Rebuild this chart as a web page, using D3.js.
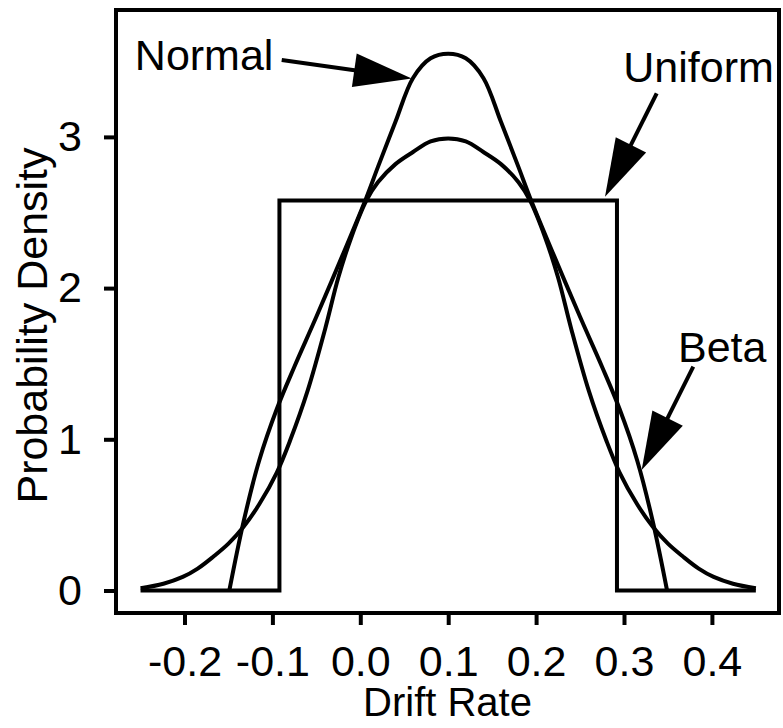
<!DOCTYPE html>
<html>
<head>
<meta charset="utf-8">
<script src="https://cdn.jsdelivr.net/npm/d3@7"></script>
<style>
  html, body { margin: 0; padding: 0; background: #fff; }
  svg { display: block; }
  text { font-family: "Liberation Sans", Arial, Helvetica, sans-serif; fill: #000; }
</style>
</head>
<body>
<svg id="chart" width="783" height="728"></svg>
<script>
// Drift-rate distributions: probability density against drift rate.
const xTicks = [-0.2, -0.1, 0.0, 0.1, 0.2, 0.3, 0.4];
const yTicks = [0, 1, 2, 3];

// Wide bell curve (peak about 3.0 at 0.1)
const normalX = [-0.25, -0.224, -0.202, -0.185, -0.167, -0.15, -0.133, -0.115, -0.095, -0.08, -0.06, -0.04, -0.025, -0.01, 0.007, 0.02, 0.04, 0.06, 0.08, 0.1,
                 0.12, 0.14, 0.16, 0.18, 0.193, 0.21, 0.225, 0.24, 0.26, 0.28, 0.295, 0.315, 0.333, 0.35, 0.367, 0.385, 0.402, 0.424, 0.45];
const normalY = [0.015, 0.045, 0.09, 0.145, 0.225, 0.31, 0.42, 0.57, 0.78, 0.99, 1.32, 1.73, 2.07, 2.34, 2.58, 2.70, 2.82, 2.90, 2.97, 2.99,
                 2.97, 2.90, 2.82, 2.70, 2.58, 2.34, 2.07, 1.73, 1.32, 0.99, 0.78, 0.57, 0.42, 0.31, 0.225, 0.145, 0.09, 0.045, 0.015];

// Narrow, taller curve (peak about 3.55 at 0.1) on [-0.149, 0.349]
const betaX = [-0.149, -0.133, -0.115, -0.095, -0.075, -0.05, -0.02, 0.007, 0.02, 0.04, 0.06, 0.08, 0.1,
               0.12, 0.14, 0.16, 0.18, 0.193, 0.22, 0.25, 0.275, 0.295, 0.315, 0.333, 0.349];
const betaY = [0, 0.45, 0.86, 1.20, 1.48, 1.81, 2.22, 2.60, 2.80, 3.10, 3.39, 3.52, 3.55,
               3.52, 3.39, 3.10, 2.80, 2.60, 2.22, 1.81, 1.48, 1.20, 0.86, 0.45, 0];

// Uniform density on [-0.092, 0.292], zero elsewhere on the plotted range
const uniformX = [-0.25, -0.092, -0.092, 0.292, 0.292, 0.45];
const uniformY = [0, 0, 2.58, 2.58, 0, 0];

// Callout labels: text anchor and arrow from tail to tip, in data units
const labels = [
  { text: "Normal",  tx: -0.2565, ty: 3.442, tail: [-0.0894, 3.509], tip: [0.0585, 3.387] },
  { text: "Uniform", tx: 0.2992,  ty: 3.365, tail: [0.3372, 3.288],  tip: [0.2784, 2.604] },
  { text: "Beta",    tx: 0.3614,  ty: 1.513, tail: [0.3788, 1.480],  tip: [0.3201, 0.797] }
];

const svg = d3.select("#chart");
const frame = { left: 116, top: 10, right: 779, bottom: 613 };

const x = d3.scaleLinear().domain([-0.2, 0.4]).range([184.5, 711.9]);
const y = d3.scaleLinear().domain([0, 3]).range([590.5, 136.9]);

const SW = 4;

// Plot frame
svg.append("rect")
  .attr("x", frame.left).attr("y", frame.top)
  .attr("width", frame.right - frame.left).attr("height", frame.bottom - frame.top)
  .attr("fill", "none").attr("stroke", "#000").attr("stroke-width", SW);

// Axes
const xAxis = d3.axisBottom(x).tickValues(xTicks).tickSize(12).tickPadding(20)
  .tickFormat(d => d3.format(".1f")(d).replace("\u2212", "-"));
const gx = svg.append("g").attr("transform", `translate(0,${frame.bottom})`).call(xAxis);
gx.select(".domain").remove();
gx.selectAll(".tick line").attr("stroke", "#000").attr("stroke-width", SW);
gx.selectAll(".tick text").attr("font-size", 43).attr("dy", "0.71em");

const yAxis = d3.axisLeft(y).tickValues(yTicks).tickFormat(d3.format("d")).tickSize(12).tickPadding(22);
const gy = svg.append("g").attr("transform", `translate(${frame.left},0)`).call(yAxis);
gy.select(".domain").remove();
gy.selectAll(".tick line").attr("stroke", "#000").attr("stroke-width", SW);
gy.selectAll(".tick text").attr("font-size", 43);

svg.selectAll("g").attr("font-family", null);

// Axis titles
svg.append("text")
  .attr("x", (frame.left + frame.right) / 2).attr("y", 716)
  .attr("text-anchor", "middle").attr("font-size", 40)
  .text("Drift Rate");
svg.append("text")
  .attr("transform", `translate(47,${(frame.top + frame.bottom) / 2 + 14}) rotate(-90)`)
  .attr("text-anchor", "middle").attr("font-size", 43)
  .text("Probability Density");

// Density curves
const step = d3.line().x(d => x(d[0])).y(d => y(d[1]));
const smooth = d3.line().x(d => x(d[0])).y(d => y(d[1])).curve(d3.curveCatmullRom.alpha(0.5));

const curves = [
  { xs: uniformX, ys: uniformY, gen: step },
  { xs: normalX, ys: normalY, gen: smooth },
  { xs: betaX, ys: betaY, gen: smooth }
];
curves.forEach(c => {
  svg.append("path")
    .datum(c.xs.map((v, i) => [v, c.ys[i]]))
    .attr("d", c.gen)
    .attr("fill", "none").attr("stroke", "#000")
    .attr("stroke-width", SW).attr("stroke-linejoin", "miter");
});

// Callouts
const headLen = 58, headHalf = 17;
labels.forEach(l => {
  svg.append("text")
    .attr("x", x(l.tx)).attr("y", y(l.ty))
    .attr("font-size", 43)
    .text(l.text);
  const x0 = x(l.tail[0]), y0 = y(l.tail[1]);
  const x1 = x(l.tip[0]), y1 = y(l.tip[1]);
  const dx = x1 - x0, dy = y1 - y0, len = Math.hypot(dx, dy);
  const ux = dx / len, uy = dy / len;
  const bx = x1 - ux * headLen, by = y1 - uy * headLen;
  svg.append("line")
    .attr("x1", x0).attr("y1", y0).attr("x2", bx + ux * 2).attr("y2", by + uy * 2)
    .attr("stroke", "#000").attr("stroke-width", SW);
  svg.append("polygon")
    .attr("points", [
      [x1, y1],
      [bx - uy * headHalf, by + ux * headHalf],
      [bx + uy * headHalf, by - ux * headHalf]
    ].map(p => p.join(",")).join(" "))
    .attr("fill", "#000");
});
</script>
</body>
</html>
